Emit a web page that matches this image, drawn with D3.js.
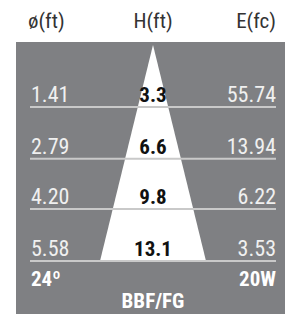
<!DOCTYPE html>
<html>
<head>
<meta charset="utf-8">
<script src="https://cdn.jsdelivr.net/npm/d3@7"></script>
<style>
  body { margin: 0; background: #fff; }
  text { font-family: "Liberation Sans Narrow", "Roboto Condensed", "Liberation Sans", sans-serif; }
</style>
</head>
<body>
<svg width="285" height="314"></svg>
<script>
// beam data, one row per mounting height
var headers = ["ø(ft)", "H(ft)", "E(fc)"];
var diameters = [1.41, 2.79, 4.20, 5.58];
var heights = [3.3, 6.6, 9.8, 13.1];
var illum = [55.74, 13.94, 6.22, 3.53];
var angleLabel = "24º";
var wattLabel = "20W";
var modelLabel = "BBF/FG";

var svg = d3.select("svg"),
    width = +svg.attr("width"),
    height = +svg.attr("height");

var left = 31, right = 276, cx = 153, panelTop = 42;

var y = d3.scaleLinear()
    .domain([0, d3.max(heights)])
    .range([55, 261]);

// half width of the beam cone at a given diameter
var w = d3.scaleLinear()
    .domain([0, d3.max(diameters)])
    .range([0, 53]);

svg.append("rect")
    .attr("x", 16).attr("y", panelTop)
    .attr("width", width - 16).attr("height", height - panelTop)
    .attr("fill", "#7f8083");

var last = diameters.length - 1;
svg.append("path")
    .attr("d", d3.line()([
        [cx, panelTop + 3],
        [cx + w(diameters[last]), y(heights[last])],
        [cx - w(diameters[last]), y(heights[last])]
    ]) + "Z")
    .attr("fill", "#fff");

// header labels
svg.selectAll(".head")
    .data(headers)
    .enter().append("text")
    .attr("class", "head")
    .attr("x", function (d, i) { return [left - 3, cx, right][i]; })
    .attr("y", 28)
    .attr("text-anchor", function (d, i) { return ["start", "middle", "end"][i]; })
    .attr("font-size", 21)
    .attr("fill", "#333")
    .text(function (d) { return d; });

var row = svg.selectAll(".row")
    .data(heights)
    .enter().append("g")
    .attr("class", "row");

row.append("line")
    .attr("x1", left - 1).attr("x2", right)
    .attr("y1", function (d) { return y(d); })
    .attr("y2", function (d) { return y(d); })
    .attr("stroke", "#c9c9c9")
    .attr("stroke-width", 2);

row.append("text")
    .attr("x", left)
    .attr("y", function (d) { return y(d) - 5; })
    .attr("font-size", 22)
    .attr("fill", "#f0f0f0")
    .text(function (d, i) { return diameters[i].toFixed(2); });

row.append("text")
    .attr("x", cx)
    .attr("y", function (d) { return y(d) - 5; })
    .attr("text-anchor", "middle")
    .attr("font-size", 21)
    .attr("font-weight", "bold")
    .attr("fill", "#111")
    .text(function (d) { return d.toFixed(1); });

row.append("text")
    .attr("x", right)
    .attr("y", function (d) { return y(d) - 5; })
    .attr("text-anchor", "end")
    .attr("font-size", 22)
    .attr("fill", "#f0f0f0")
    .text(function (d, i) { return illum[i].toFixed(2); });

svg.append("text")
    .attr("x", left).attr("y", 286)
    .attr("font-size", 21).attr("font-weight", "bold")
    .attr("fill", "#fff")
    .text(angleLabel);

svg.append("text")
    .attr("x", right).attr("y", 286)
    .attr("text-anchor", "end")
    .attr("font-size", 21).attr("font-weight", "bold")
    .attr("fill", "#fff")
    .text(wattLabel);

svg.append("text")
    .attr("x", cx).attr("y", 308)
    .attr("text-anchor", "middle")
    .attr("font-size", 21).attr("font-weight", "bold")
    .attr("fill", "#fff")
    .text(modelLabel);
</script>
</body>
</html>
